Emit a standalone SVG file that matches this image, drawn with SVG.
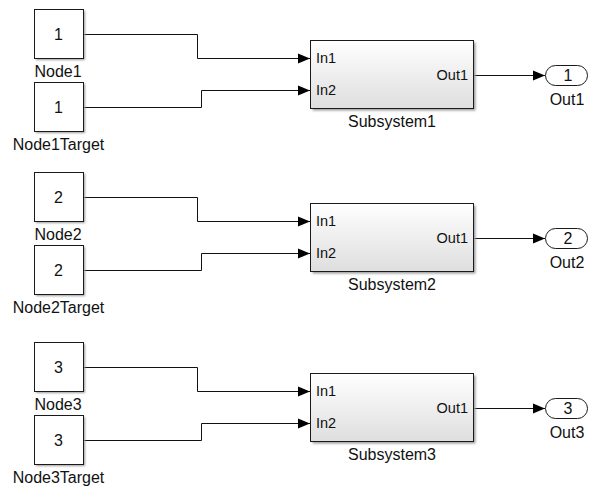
<svg xmlns="http://www.w3.org/2000/svg" width="590" height="486" viewBox="0 0 590 486">
<style>
.blk{fill:#fff;stroke:#1a1a1a;stroke-width:1}
.sub{fill:url(#g);stroke:#1a1a1a;stroke-width:1}
.sh{fill:#9a9a9a;filter:url(#b)}
.num{font-family:"Liberation Sans",Arial,sans-serif;font-size:16px;fill:#111;text-anchor:middle}
.lbl{font-family:"Liberation Sans",Arial,sans-serif;font-size:16px;fill:#111;text-anchor:middle}
.port{font-family:"Liberation Sans",Arial,sans-serif;font-size:14.5px;fill:#111}
.wire{fill:none;stroke:#111;stroke-width:1;marker-end:url(#a)}
</style>
<defs>
<linearGradient id="g" x1="0" y1="0" x2="0" y2="1">
<stop offset="0" stop-color="#ffffff"/>
<stop offset="1" stop-color="#dedede"/>
</linearGradient>
<filter id="b" x="-10%" y="-10%" width="120%" height="130%"><feGaussianBlur stdDeviation="0.8"/></filter>
<marker id="a" markerUnits="userSpaceOnUse" markerWidth="13" markerHeight="11" refX="12" refY="5.5" orient="auto">
<path d="M0,0.5 L12,5.5 L0,10.5 Z" fill="#000"/>
</marker>
</defs>

<g id="connectors">
<path class="wire" d="M83.5,34.5 H197.5 V58.5 H310"/>
<path class="wire" d="M83.5,107.5 H201.5 V90.5 H310"/>
<path class="wire" d="M473.5,75.5 H545"/>
<path class="wire" d="M83.5,197.5 H197.5 V221.5 H310"/>
<path class="wire" d="M83.5,270.5 H201.5 V253.5 H310"/>
<path class="wire" d="M473.5,238.5 H545"/>
<path class="wire" d="M83.5,367.5 H197.5 V391.5 H310"/>
<path class="wire" d="M83.5,440.5 H201.5 V423.5 H310"/>
<path class="wire" d="M473.5,408.5 H545"/>
</g>

<g id="Node1">
<rect class="sh" x="36" y="11" width="49" height="49"/>
<rect class="blk" x="34.5" y="9.5" width="49" height="49"/>
<text class="num" x="58.5" y="39.5">1</text>
<text class="lbl" x="58" y="77">Node1</text>
</g>
<g id="Node1Target">
<rect class="sh" x="36" y="84" width="49" height="49"/>
<rect class="blk" x="34.5" y="82.5" width="49" height="49"/>
<text class="num" x="58.5" y="112.5">1</text>
<text class="lbl" x="58.5" y="150">Node1Target</text>
</g>
<g id="Subsystem1">
<rect class="sh" x="312.5" y="42.5" width="163" height="68"/>
<rect class="sub" x="310.5" y="40.5" width="163" height="68"/>
<text class="port" x="316" y="63">In1</text>
<text class="port" x="316" y="95">In2</text>
<text class="port" x="468" y="80" text-anchor="end">Out1</text>
<text class="lbl" x="392" y="127">Subsystem1</text>
</g>
<g id="Out1">
<rect class="blk" x="545.5" y="65.5" width="42" height="20" rx="10" ry="10"/>
<text class="num" x="568" y="81">1</text>
<text class="lbl" x="567" y="105">Out1</text>
</g>

<g id="Node2">
<rect class="sh" x="36" y="174" width="49" height="49"/>
<rect class="blk" x="34.5" y="172.5" width="49" height="49"/>
<text class="num" x="58.5" y="202.5">2</text>
<text class="lbl" x="58" y="240">Node2</text>
</g>
<g id="Node2Target">
<rect class="sh" x="36" y="247" width="49" height="49"/>
<rect class="blk" x="34.5" y="245.5" width="49" height="49"/>
<text class="num" x="58.5" y="275.5">2</text>
<text class="lbl" x="58.5" y="313">Node2Target</text>
</g>
<g id="Subsystem2">
<rect class="sh" x="312.5" y="205.5" width="163" height="68"/>
<rect class="sub" x="310.5" y="203.5" width="163" height="68"/>
<text class="port" x="316" y="226">In1</text>
<text class="port" x="316" y="258">In2</text>
<text class="port" x="468" y="243" text-anchor="end">Out1</text>
<text class="lbl" x="392" y="290">Subsystem2</text>
</g>
<g id="Out2">
<rect class="blk" x="545.5" y="228.5" width="42" height="20" rx="10" ry="10"/>
<text class="num" x="568" y="244">2</text>
<text class="lbl" x="567" y="268">Out2</text>
</g>

<g id="Node3">
<rect class="sh" x="36" y="344" width="49" height="49"/>
<rect class="blk" x="34.5" y="342.5" width="49" height="49"/>
<text class="num" x="58.5" y="372.5">3</text>
<text class="lbl" x="58" y="410">Node3</text>
</g>
<g id="Node3Target">
<rect class="sh" x="36" y="417" width="49" height="49"/>
<rect class="blk" x="34.5" y="415.5" width="49" height="49"/>
<text class="num" x="58.5" y="445.5">3</text>
<text class="lbl" x="58.5" y="483">Node3Target</text>
</g>
<g id="Subsystem3">
<rect class="sh" x="312.5" y="375.5" width="163" height="68"/>
<rect class="sub" x="310.5" y="373.5" width="163" height="68"/>
<text class="port" x="316" y="396">In1</text>
<text class="port" x="316" y="428">In2</text>
<text class="port" x="468" y="413" text-anchor="end">Out1</text>
<text class="lbl" x="392" y="460">Subsystem3</text>
</g>
<g id="Out3">
<rect class="blk" x="545.5" y="398.5" width="42" height="20" rx="10" ry="10"/>
<text class="num" x="568" y="414">3</text>
<text class="lbl" x="567" y="438">Out3</text>
</g>
</svg>
